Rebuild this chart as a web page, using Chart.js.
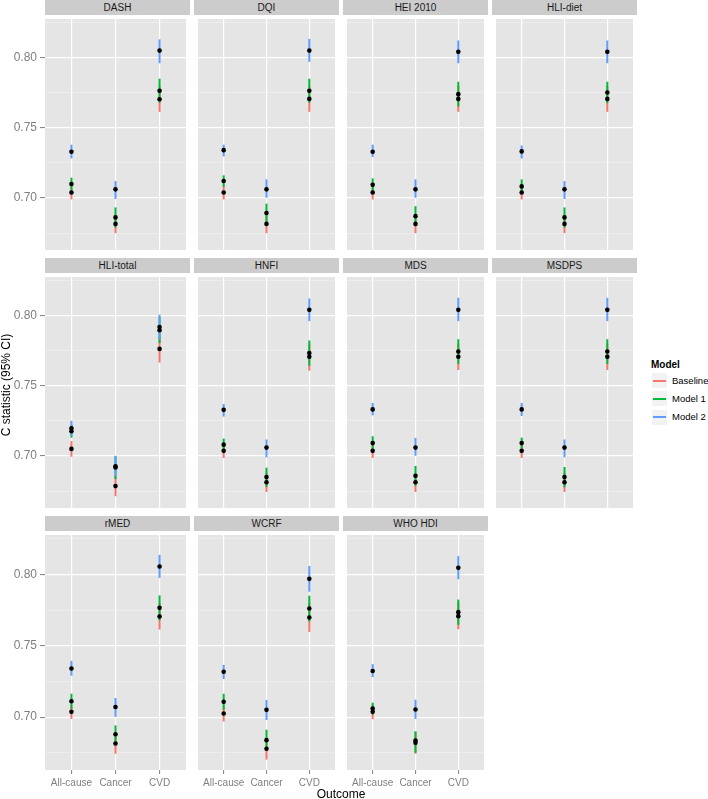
<!DOCTYPE html>
<html>
<head>
<meta charset="utf-8">
<script src="https://cdn.jsdelivr.net/npm/chart.js@4.4.1/dist/chart.umd.min.js"></script>
<style>
  body { margin: 0; background: #fff; font-family: "Liberation Sans", Arial, sans-serif; }
  #fig { position: relative; width: 708px; height: 799px; overflow: hidden; }
  canvas { position: absolute; }
  .strip { position: absolute; height: 15px; background: #CCCCCC; color: #1A1A1A;
           font-size: 10px; line-height: 15px; text-align: center; }
  .txt { position: absolute; white-space: nowrap; color: #000; }
  .key { position: absolute; width: 17px; height: 17px; background: #F2F2F2; box-sizing: border-box; border: 1px solid #fff; }
  .key i { position: absolute; left: 1px; right: 1px; top: 6.5px; height: 2px; }
</style>
</head>
<body>
<div id="fig"></div>
<script>
// categories
const outcomes = ['All-cause', 'Cancer', 'CVD'];
const indices = ['DASH', 'DQI', 'HEI 2010', 'HLI-diet', 'HLI-total', 'HNFI', 'MDS', 'MSDPS', 'rMED', 'WCRF', 'WHO HDI'];
const models = ['Baseline', 'Model 1', 'Model 2'];
const modelColors = ['#F8766D', '#00BA38', '#619CFF'];
const majorTicks = [0.70, 0.75, 0.80];

// C statistic per index: [All-cause, Cancer, CVD]
const baselineEst = [
  [0.7040, 0.6816, 0.7704], [0.7039, 0.6816, 0.7706], [0.7039, 0.6816, 0.7706], [0.7039, 0.6816, 0.7706],
  [0.7051, 0.6786, 0.7763], [0.7037, 0.6813, 0.7707], [0.7037, 0.6813, 0.7707], [0.7037, 0.6813, 0.7707],
  [0.7037, 0.6816, 0.7705], [0.7025, 0.6779, 0.7698], [0.7037, 0.6820, 0.7707]
];
const baselineLo = [
  [0.6990, 0.6750, 0.7614], [0.6990, 0.6750, 0.7614], [0.6990, 0.6750, 0.7614], [0.6990, 0.6750, 0.7614],
  [0.6995, 0.6714, 0.7666], [0.6986, 0.6744, 0.7608], [0.6986, 0.6744, 0.7613], [0.6986, 0.6744, 0.7613],
  [0.6988, 0.6744, 0.7613], [0.6970, 0.6703, 0.7597], [0.6986, 0.6744, 0.7615]
];
const baselineHi = [
  [0.7090, 0.6880, 0.7794], [0.7088, 0.6880, 0.7798], [0.7088, 0.6880, 0.7798], [0.7088, 0.6880, 0.7798],
  [0.7106, 0.6860, 0.7860], [0.7088, 0.6880, 0.7800], [0.7088, 0.6880, 0.7800], [0.7088, 0.6880, 0.7800],
  [0.7086, 0.6888, 0.7797], [0.7080, 0.6855, 0.7800], [0.7088, 0.6896, 0.7800]
];

const model1Est = [
  [0.7100, 0.6862, 0.7764], [0.7121, 0.6894, 0.7764], [0.7094, 0.6871, 0.7740], [0.7083, 0.6862, 0.7752],
  [0.7177, 0.6918, 0.7896], [0.7081, 0.6850, 0.7733], [0.7092, 0.6859, 0.7744], [0.7092, 0.6850, 0.7744],
  [0.7111, 0.6880, 0.7765], [0.7108, 0.6839, 0.7760], [0.7060, 0.6836, 0.7735]
];
const model1Lo = [
  [0.7055, 0.6790, 0.7680], [0.7080, 0.6828, 0.7680], [0.7048, 0.6800, 0.7652], [0.7033, 0.6790, 0.7676],
  [0.7131, 0.6836, 0.7804], [0.7038, 0.6780, 0.7643], [0.7043, 0.6789, 0.7656], [0.7053, 0.6778, 0.7656],
  [0.7058, 0.6818, 0.7678], [0.7052, 0.6766, 0.7670], [0.7019, 0.6751, 0.7647]
];
const model1Hi = [
  [0.7145, 0.6933, 0.7850], [0.7162, 0.6960, 0.7850], [0.7140, 0.6942, 0.7828], [0.7133, 0.6933, 0.7828],
  [0.7225, 0.7000, 0.7990], [0.7124, 0.6917, 0.7823], [0.7141, 0.6929, 0.7832], [0.7131, 0.6922, 0.7832],
  [0.7164, 0.6942, 0.7852], [0.7164, 0.6912, 0.7850], [0.7101, 0.6901, 0.7823]
];

const model2Est = [
  [0.7330, 0.7062, 0.8050], [0.7341, 0.7062, 0.8050], [0.7330, 0.7062, 0.8041], [0.7332, 0.7062, 0.8041],
  [0.7198, 0.6927, 0.7919], [0.7329, 0.7060, 0.8041], [0.7332, 0.7060, 0.8041], [0.7332, 0.7060, 0.8041],
  [0.7341, 0.7071, 0.8055], [0.7318, 0.7051, 0.7968], [0.7323, 0.7053, 0.8046]
];
const model2Lo = [
  [0.7282, 0.6993, 0.7960], [0.7296, 0.7002, 0.7970], [0.7293, 0.7002, 0.7960], [0.7282, 0.6993, 0.7960],
  [0.7145, 0.6855, 0.7830], [0.7281, 0.6991, 0.7961], [0.7290, 0.7002, 0.7961], [0.7285, 0.6991, 0.7961],
  [0.7290, 0.7002, 0.7975], [0.7267, 0.6980, 0.7878], [0.7281, 0.6987, 0.7965]
];
const model2Hi = [
  [0.7380, 0.7121, 0.8130], [0.7380, 0.7133, 0.8133], [0.7380, 0.7133, 0.8122], [0.7374, 0.7121, 0.8122],
  [0.7251, 0.7002, 0.8007], [0.7371, 0.7118, 0.8122], [0.7378, 0.7129, 0.8127], [0.7378, 0.7118, 0.8127],
  [0.7394, 0.7134, 0.8136], [0.7366, 0.7120, 0.8058], [0.7371, 0.7122, 0.8127]
];

const est = [baselineEst, model1Est, model2Est];
const lo = [baselineLo, model1Lo, model2Lo];
const hi = [baselineHi, model1Hi, model2Hi];

// layout
const colLeft = [45, 194, 343, 492];
const panelW = 145, panelH = 239, stripH = 15, rowStep = 258;
const axisW = 45, axisH = 29;

Chart.defaults.font.family = '"Liberation Sans", Arial, sans-serif';

const fig = document.getElementById('fig');

const isMajor = v => majorTicks.some(t => Math.abs(t - v) < 1e-6);

const panelBg = {
  id: 'panelBg',
  beforeDraw(chart) {
    const {ctx, chartArea: a} = chart;
    ctx.save();
    ctx.fillStyle = '#E5E5E5';
    ctx.fillRect(a.left, a.top, a.right - a.left, a.bottom - a.top);
    ctx.restore();
  }
};

indices.forEach((name, p) => {
  const row = Math.floor(p / 4), col = p % 4;
  const left = col === 0;
  const bottom = row === 2;
  const top = row * rowStep;

  // strip
  const strip = document.createElement('div');
  strip.className = 'strip';
  strip.style.left = colLeft[col] + 'px';
  strip.style.top = top + 'px';
  strip.style.width = panelW + 'px';
  strip.textContent = name;
  fig.appendChild(strip);

  const cv = document.createElement('canvas');
  const w = panelW + (left ? axisW : 0);
  const h = panelH + (bottom ? axisH : 0);
  cv.width = w; cv.height = h;
  cv.style.width = w + 'px'; cv.style.height = h + 'px';
  cv.style.left = (left ? colLeft[col] - axisW : colLeft[col]) + 'px';
  cv.style.top = (top + stripH) + 'px';
  fig.appendChild(cv);

  const datasets = [{
    type: 'scatter',
    data: est.flatMap(m => m[p].map((v, k) => ({x: k + 1, y: v}))),
    pointRadius: 2.3,
    pointBackgroundColor: '#000',
    pointBorderWidth: 0,
    order: 0
  }];
  models.forEach((m, j) => {
    datasets.push({
      type: 'bar',
      label: m,
      data: outcomes.map((o, k) => ({x: k + 1, y: [lo[j][p][k], hi[j][p][k]]})),
      backgroundColor: modelColors[j],
      borderWidth: 0,
      grouped: false,
      maxBarThickness: 2,
      order: 3 - j
    });
  });

  new Chart(cv, {
    type: 'bar',
    data: {datasets},
    options: {
      responsive: false,
      animation: false,
      events: [],
      layout: {padding: 0},
      plugins: {legend: {display: false}, tooltip: {enabled: false}},
      scales: {
        x: {
          type: 'linear', min: 0.4, max: 3.6, offset: false,
          border: {display: false},
          grid: {color: '#FFFFFF', lineWidth: 1.2, offset: false,
                 drawTicks: bottom, tickLength: 4, tickColor: '#7F7F7F', tickWidth: 1},
          ticks: {display: bottom, stepSize: 1, includeBounds: false, autoSkip: false,
                  maxRotation: 0, padding: 3, color: '#7F7F7F', font: {size: 10},
                  callback: v => outcomes[v - 1] || ''},
          afterFit: s => { s.height = bottom ? axisH : 0; s.paddingLeft = 0; s.paddingRight = 0; }
        },
        y: {
          type: 'linear', min: 0.663, max: 0.8275,
          border: {display: false},
          grid: {
            color: c => (c.tick && isMajor(c.tick.value)) ? '#FFFFFF' : '#F2F2F2',
            lineWidth: c => (c.tick && isMajor(c.tick.value)) ? 1.2 : 0.6,
            drawTicks: left, tickLength: 5, tickWidth: 1,
            tickColor: c => (c.tick && isMajor(c.tick.value)) ? '#7F7F7F' : 'rgba(0,0,0,0)'
          },
          ticks: {display: left, stepSize: 0.025, includeBounds: false, autoSkip: false,
                  padding: 3, color: '#7F7F7F', font: {size: 12},
                  callback: v => isMajor(v) ? v.toFixed(2) : ''},
          afterFit: s => { s.width = left ? axisW : 0; s.paddingTop = 0; s.paddingBottom = 0; }
        }
      }
    },
    plugins: [panelBg]
  });
});

// axis titles
function addText(text, css) {
  const d = document.createElement('div');
  d.className = 'txt';
  d.textContent = text;
  Object.assign(d.style, css);
  fig.appendChild(d);
  return d;
}
addText('Outcome', {left: '241px', top: '787px', width: '200px', textAlign: 'center',
                    fontSize: '12px', lineHeight: '14px'});
addText('C statistic (95% CI)', {left: '-94px', top: '378px', width: '200px', textAlign: 'center',
                    fontSize: '12px', lineHeight: '14px', transform: 'rotate(-90deg)'});

// legend
addText('Model', {left: '651px', top: '359px', fontSize: '10px', lineHeight: '12px', fontWeight: 'bold'});
models.forEach((m, j) => {
  const keyTop = 372 + j * 18.3;
  const k = document.createElement('div');
  k.className = 'key';
  k.style.left = '651px';
  k.style.top = keyTop + 'px';
  const line = document.createElement('i');
  line.style.background = modelColors[j];
  k.appendChild(line);
  fig.appendChild(k);
  addText(m, {left: '672px', top: (keyTop + 2.5) + 'px', fontSize: '9.5px', lineHeight: '12px'});
});
</script>
</body>
</html>
